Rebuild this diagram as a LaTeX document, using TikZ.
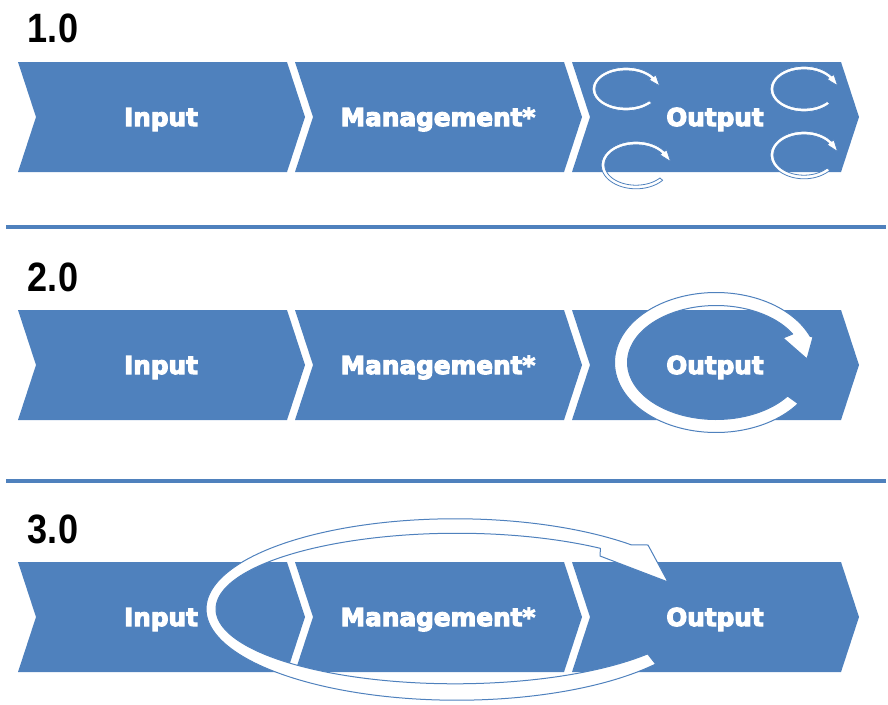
\documentclass[tikz,border=0pt]{standalone}
\usepackage{fontspec}
\usepackage{graphicx}
\newfontfamily\lblfont{DejaVu Sans Bold}
\newfontfamily\numfont{Liberation Sans}
\definecolor{ofblue}{RGB}{79,129,189}
\newcommand{\heavy}[1]{\special{pdf:code q 2 Tr 1.1 w 1 G 1 g}#1\special{pdf:code Q}}
\tikzset{
  chev/.style={fill=ofblue, draw=none},
  lbl/.style={text=white, font=\lblfont\fontsize{24.7}{30}\selectfont, anchor=base, inner sep=0pt},
  numlbl/.style={font=\numfont\fontsize{41}{48}\selectfont\bfseries, anchor=center, inner sep=0pt, text=black},
  sepline/.style={draw=ofblue, line width=4pt},
  band/.style={fill=white, draw=ofblue, line width=1pt, line join=round},
  smallband/.style={fill=white, draw=ofblue, line width=0.8pt, line join=round},
}
\newcommand{\chevron}[2]{\fill[chev] (#1,#2) -- ++(269,0) -- ++(18,55) -- ++(-18,55) -- ++(-269,0) -- ++(18,-55) -- cycle;}
% small circular arrow: cx cy a b
\newcommand{\smallarrow}[4]{%
  \filldraw[smallband]
    plot[variable=\t,domain=40:325,samples=60,smooth] ({#1+(#3+1.8)*cos(\t)},{#2+(#4+1.8)*sin(\t)})
    -- ({#1+(#3+4.5)*cos(325)},{#2+(#4+4.5)*sin(325)})
    -- ({#1+(#3+2)*cos(352)},{#2+(#4+2)*sin(352)})
    -- ({#1+(#3-4)*cos(325)},{#2+(#4-4)*sin(325)})
    -- plot[variable=\t,domain=325:40,samples=60,smooth] ({#1+(#3-1.8)*cos(\t)},{#2+(#4-1.8)*sin(\t)})
    -- cycle;}
\begin{document}
\begin{tikzpicture}[x=1pt,y=-1pt]
\useasboundingbox (0,0) rectangle (888,704);

% separators
\draw[sepline] (6,226.5) -- (886,226.5);
\draw[sepline] (6,481) -- (886,481);

% version labels
\node[numlbl] (v1) at (53,28) {\scalebox{0.88}[1]{1.0}};
\node[numlbl] (v2) at (53,277) {\scalebox{0.88}[1]{2.0}};
\node[numlbl] (v3) at (53,529) {\scalebox{0.88}[1]{3.0}};

% ---- row 1 ----
\chevron{18}{62}
\chevron{295}{62}
\chevron{572}{62}
\node[lbl] (in1) at (161,126) {\heavy{Input}};
\node[lbl] (mg1) at (438,126) {\heavy{Management*}};
\node[lbl] (out1) at (715,126) {\heavy{Output}};
\smallarrow{626}{89}{32}{20}
\smallarrow{804}{89}{32}{21}
\smallarrow{636}{165}{33}{22}
\smallarrow{804}{155}{32}{22}

% ---- row 2 ----
\chevron{18}{310}
\chevron{295}{310}
\chevron{572}{310}
\node[lbl] (in2) at (161,374) {\heavy{Input}};
\node[lbl] (mg2) at (438,374) {\heavy{Management*}};
\node[lbl] (out2) at (715,374) {\heavy{Output}};
\filldraw[band]
  plot[variable=\t,domain=36:338,samples=120,smooth] ({716+101.5*cos(\t)},{362.5+70*sin(\t)})
  -- (813,337) -- (807,359) -- (783,338)
  -- plot[variable=\t,domain=330:36,samples=120,smooth] ({716+88.5*cos(\t)},{362.5+57*sin(\t)})
  -- cycle;

% ---- row 3 ----
\chevron{18}{562}
\chevron{295}{562}
\chevron{572}{562}
\node[lbl] (in3) at (161,626) {\heavy{Input}};
\node[lbl] (mg3) at (438,626) {\heavy{Management*}};
\node[lbl] (out3) at (715,626) {\heavy{Output}};
\filldraw[band]
  plot[variable=\t,domain=37:314.5,samples=160,smooth] ({456+250*cos(\t)},{609+(83+8.5-1.5*(\t-37)/277)*sin(\t)})
  -- (648,545) -- (668,582) -- (600,556)
  -- plot[variable=\t,domain=307:37,samples=160,smooth] ({456+240*cos(\t)},{609+(83-(8.5-1.5*(\t-37)/277))*sin(\t)})
  -- cycle;
\end{tikzpicture}
\end{document}
